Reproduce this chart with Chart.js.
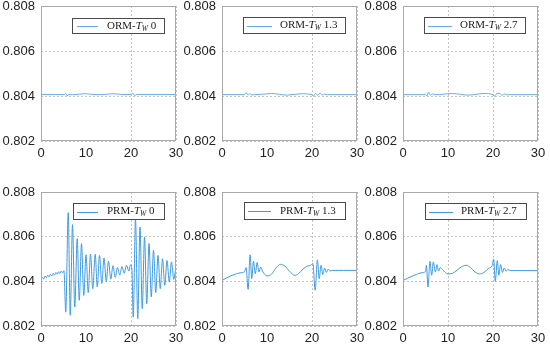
<!DOCTYPE html>
<html>
<head>
<meta charset="utf-8">
<script src="https://cdn.jsdelivr.net/npm/chart.js@4.4.0/dist/chart.umd.min.js"></script>
<style>
  html, body { margin: 0; padding: 0; background: #fff; }
  #wrap { position: relative; width: 550px; height: 347px; overflow: hidden; }
  .panel { position: absolute; }
</style>
</head>
<body>
<div id="wrap">
  <div class="panel" style="left:0px;top:0px"><canvas id="c0" width="184" height="171"></canvas></div>
  <div class="panel" style="left:181px;top:0px"><canvas id="c1" width="184" height="171"></canvas></div>
  <div class="panel" style="left:362px;top:0px"><canvas id="c2" width="184" height="171"></canvas></div>
  <div class="panel" style="left:0px;top:186px"><canvas id="c3" width="184" height="170"></canvas></div>
  <div class="panel" style="left:181px;top:186px"><canvas id="c4" width="184" height="170"></canvas></div>
  <div class="panel" style="left:362px;top:186px"><canvas id="c5" width="184" height="170"></canvas></div>
</div>
<script>
// ---- data ----
const xTicks = [0, 10, 20, 30];
const yTicks = [0.802, 0.804, 0.806, 0.808];
const models = ['ORM', 'ORM', 'ORM', 'PRM', 'PRM', 'PRM'];
const twValues = ['0', '1.3', '2.7', '0', '1.3', '2.7'];

const tOrm0 = [0, 3, 5.2, 5.5, 5.8, 6.2, 7, 8.5, 9.8, 11, 13, 16, 18, 20, 20.4, 20.8, 21.3, 22, 25, 30];
const vOrm0 = [0.80407, 0.80407, 0.80406, 0.80412, 0.80401, 0.80406, 0.80406, 0.80408, 0.80410, 0.80408,
               0.80406, 0.80410, 0.80407, 0.80406, 0.80413, 0.80402, 0.80407, 0.80407, 0.80407, 0.80407];

const tOrm13 = [0, 5, 5.4, 5.8, 6.2, 6.6, 7.2, 9, 11, 14.5, 17.5, 20, 20.3, 20.8, 21.3, 21.8, 22.3, 22.8, 23.5, 30];
const vOrm13 = [0.80406, 0.80406, 0.80415, 0.80404, 0.80411, 0.80405, 0.80406, 0.80408, 0.80411, 0.80404,
                0.80410, 0.80406, 0.80399, 0.80412, 0.80403, 0.80413, 0.80404, 0.80408, 0.80406, 0.80406];

const tOrm27 = [0, 5, 5.3, 5.7, 6.1, 6.5, 7.2, 9, 11, 14.5, 18, 20, 20.3, 20.8, 21.5, 22, 22.6, 23.2, 24, 30];
const vOrm27 = [0.80406, 0.80406, 0.80400, 0.80418, 0.80404, 0.80409, 0.80406, 0.80408, 0.80411, 0.80404,
                0.80411, 0.80406, 0.80399, 0.80410, 0.80412, 0.80403, 0.80409, 0.80405, 0.80406, 0.80406];

const tPrm0 = [0, 0.3, 0.6, 0.9, 1.2, 1.5, 1.8, 2.1, 2.4, 2.7, 3.0, 3.3, 3.6, 3.9, 4.2, 4.5, 4.8, 5.1,
               5.5, 6.05, 6.5, 7.0, 7.5, 8.05, 8.5, 9.0, 9.5, 10.0, 10.5, 11.0, 11.5, 12.05, 12.5, 13.0,
               13.5, 14.0, 14.5, 15.0, 15.5, 16.0, 16.5, 17.0, 17.5, 18.0, 18.5, 19.0, 19.5, 19.9, 20.2,
               20.5, 21.0, 21.5, 22.0, 22.5, 23.0, 23.5, 24.0, 24.5, 25.0, 25.5, 26.0, 26.5, 27.0, 27.5,
               28.0, 28.5, 29.0, 29.5, 30.0];
const vPrm0 = [0.80412, 0.80418, 0.80410, 0.80424, 0.80416, 0.80428, 0.80420, 0.80432, 0.80424, 0.80436,
               0.80428, 0.80440, 0.80432, 0.80443, 0.80435, 0.80446, 0.80438, 0.80448,
               0.80262, 0.80708, 0.80248, 0.80654, 0.80285, 0.80591, 0.80315, 0.80569, 0.80337, 0.80519,
               0.80350, 0.80522, 0.80367, 0.80522, 0.80375, 0.80516, 0.80390, 0.80504, 0.80400, 0.80490,
               0.80410, 0.80470, 0.80418, 0.80462, 0.80428, 0.80466, 0.80436, 0.80472, 0.80446, 0.80474,
               0.80455, 0.80240, 0.80680, 0.80233, 0.80643, 0.80278, 0.80599, 0.80300, 0.80569, 0.80330,
               0.80539, 0.80350, 0.80516, 0.80367, 0.80501, 0.80382, 0.80494, 0.80397, 0.80487, 0.80409,
               0.80472];

const tPrm13 = [0, 1, 2, 3, 4, 5, 5.35, 5.8, 6.25, 6.6, 7.0, 7.4, 7.8, 8.2, 8.6, 9.0, 10, 11, 12, 13, 14,
                15, 16.2, 17, 18, 19, 19.7, 20.2, 20.7, 21.2, 21.6, 22.0, 22.4, 22.8, 23.2, 23.6, 24.0,
                24.5, 27, 30];
const vPrm13 = [0.80404, 0.80415, 0.80425, 0.80432, 0.80438, 0.80443, 0.80462, 0.80364, 0.80519, 0.80412,
                0.80490, 0.80434, 0.80484, 0.80442, 0.80464, 0.80446, 0.80424, 0.80432, 0.80460, 0.80476,
                0.80468, 0.80445, 0.80427, 0.80434, 0.80455, 0.80468, 0.80472, 0.80480, 0.80360, 0.80496,
                0.80412, 0.80472, 0.80430, 0.80460, 0.80440, 0.80455, 0.80446, 0.80449, 0.80449, 0.80449];

const tPrm27 = [0, 1, 2, 3, 4, 5, 5.2, 5.55, 6.0, 6.37, 6.74, 7.2, 7.55, 7.9, 8.3, 8.8, 10, 11, 12, 13, 14,
                15, 16, 17, 18, 19, 19.8, 20.15, 20.5, 20.96, 21.3, 21.7, 22.1, 22.5, 22.9, 23.3, 24, 30];
const vPrm27 = [0.80404, 0.80414, 0.80423, 0.80431, 0.80438, 0.80444, 0.80472, 0.80375, 0.80490, 0.80427,
                0.80487, 0.80442, 0.80475, 0.80446, 0.80462, 0.80452, 0.80433, 0.80436, 0.80450, 0.80465,
                0.80472, 0.80462, 0.80442, 0.80433, 0.80440, 0.80458, 0.80470, 0.80499, 0.80400, 0.80493,
                0.80427, 0.80475, 0.80440, 0.80460, 0.80445, 0.80453, 0.80448, 0.80448];

const seriesT = [tOrm0, tOrm13, tOrm27, tPrm0, tPrm13, tPrm27];
const seriesV = [vOrm0, vOrm13, vOrm27, vPrm0, vPrm13, vPrm27];

// ---- layout / style per panel (offsets relative to the plot area) ----
const panelStyle = [
  { color: '#62afe6', box: [31, 12, 92, 15], line: [36, 57], text: 66, hideX: [10] },
  { color: '#62afe6', box: [21, 11, 102, 16], line: [25, 50], text: 58, hideX: [10] },
  { color: '#62afe6', box: [21, 11, 101, 16], line: [25, 49], text: 57, hideX: [] },
  { color: '#3d9be0', box: [32, 11, 91, 16], line: [36, 57], text: 66, hideX: [10] },
  { color: '#3d9be0', box: [22, 10, 101, 17], line: [26, 49], text: 58, hideX: [10] },
  { color: '#3d9be0', box: [22, 11, 101, 16], line: [26, 50], text: 58, hideX: [] }
];

const framePlugin = {
  id: 'frame',
  afterDatasetsDraw(chart, args, opts) {
    const { ctx, chartArea: a } = chart;
    ctx.save();
    ctx.strokeStyle = '#a8a8a8';
    ctx.lineWidth = 1;
    ctx.strokeRect(a.left + 0.5, a.top + 0.5, a.right - a.left - 1, a.bottom - a.top - 1);

    // legend box
    const [bx, by, bw, bh] = opts.box;
    const x0 = a.left + bx, y0 = a.top + by;
    ctx.fillStyle = '#fff';
    ctx.fillRect(x0, y0, bw, bh);
    ctx.strokeStyle = '#4a4a4a';
    ctx.strokeRect(x0 + 0.5, y0 + 0.5, bw, bh);
    const cy = y0 + bh / 2 + 0.5;
    ctx.strokeStyle = opts.color;
    ctx.beginPath();
    ctx.moveTo(a.left + opts.line[0], Math.round(cy) + 0.5);
    ctx.lineTo(a.left + opts.line[1], Math.round(cy) + 0.5);
    ctx.stroke();

    ctx.fillStyle = '#1a1a1a';
    ctx.textBaseline = 'middle';
    let tx = a.left + opts.text;
    ctx.font = '11px "Liberation Serif"';
    ctx.fillText(opts.model + '-', tx, cy);
    tx += ctx.measureText(opts.model + '-').width;
    ctx.font = 'italic 11px "Liberation Serif"';
    ctx.fillText('T', tx, cy);
    tx += ctx.measureText('T').width;
    ctx.font = 'italic 7.5px "Liberation Serif"';
    ctx.fillText('W', tx, cy + 3);
    tx += ctx.measureText('W').width;
    ctx.font = '11px "Liberation Serif"';
    ctx.fillText(' ' + opts.tw, tx, cy);
    ctx.restore();
  }
};

const tickFont = { family: '"Liberation Sans", Arial, sans-serif', size: 13 };

function makeChart(i) {
  const ps = panelStyle[i];
  const points = seriesT[i].map((t, k) => ({ x: t, y: seriesV[i][k] }));
  new Chart(document.getElementById('c' + i), {
    type: 'line',
    data: {
      datasets: [{
        label: models[i] + '-Tw ' + twValues[i],
        data: points,
        borderColor: ps.color,
        borderWidth: 1,
        pointRadius: 0,
        cubicInterpolationMode: 'monotone',
        fill: false
      }]
    },
    options: {
      responsive: false,
      animation: false,
      layout: { padding: { top: 6, right: 8, left: 0, bottom: 0 } },
      plugins: {
        legend: { display: false },
        tooltip: { enabled: false },
        frame: { model: models[i], tw: twValues[i], color: ps.color, box: ps.box, line: ps.line, text: ps.text }
      },
      scales: {
        x: {
          type: 'linear',
          min: 0,
          max: 30,
          afterBuildTicks: s => { s.ticks = xTicks.map(v => ({ value: v })); },
          afterFit: s => { s.height = 30; s.paddingLeft = 0; s.paddingRight = 0; },
          grid: {
            color: c => (c.tick && ps.hideX.includes(c.tick.value)) ? 'rgba(0,0,0,0)' : '#c4c4c4',
            drawTicks: false
          },
          border: { display: false, dash: [2, 2] },
          ticks: { font: tickFont, color: '#222', padding: 5, maxRotation: 0 }
        },
        y: {
          min: 0.802,
          max: 0.808,
          afterBuildTicks: s => { s.ticks = yTicks.map(v => ({ value: v })); },
          afterFit: s => { s.width = 41; s.paddingTop = 0; s.paddingBottom = 0; },
          grid: { color: '#c4c4c4', drawTicks: false },
          border: { display: false, dash: [2, 2] },
          ticks: { font: tickFont, color: '#222', padding: 6, callback: v => v.toFixed(3) }
        }
      }
    },
    plugins: [framePlugin]
  });
}

for (let i = 0; i < 6; i++) makeChart(i);
</script>
</body>
</html>
